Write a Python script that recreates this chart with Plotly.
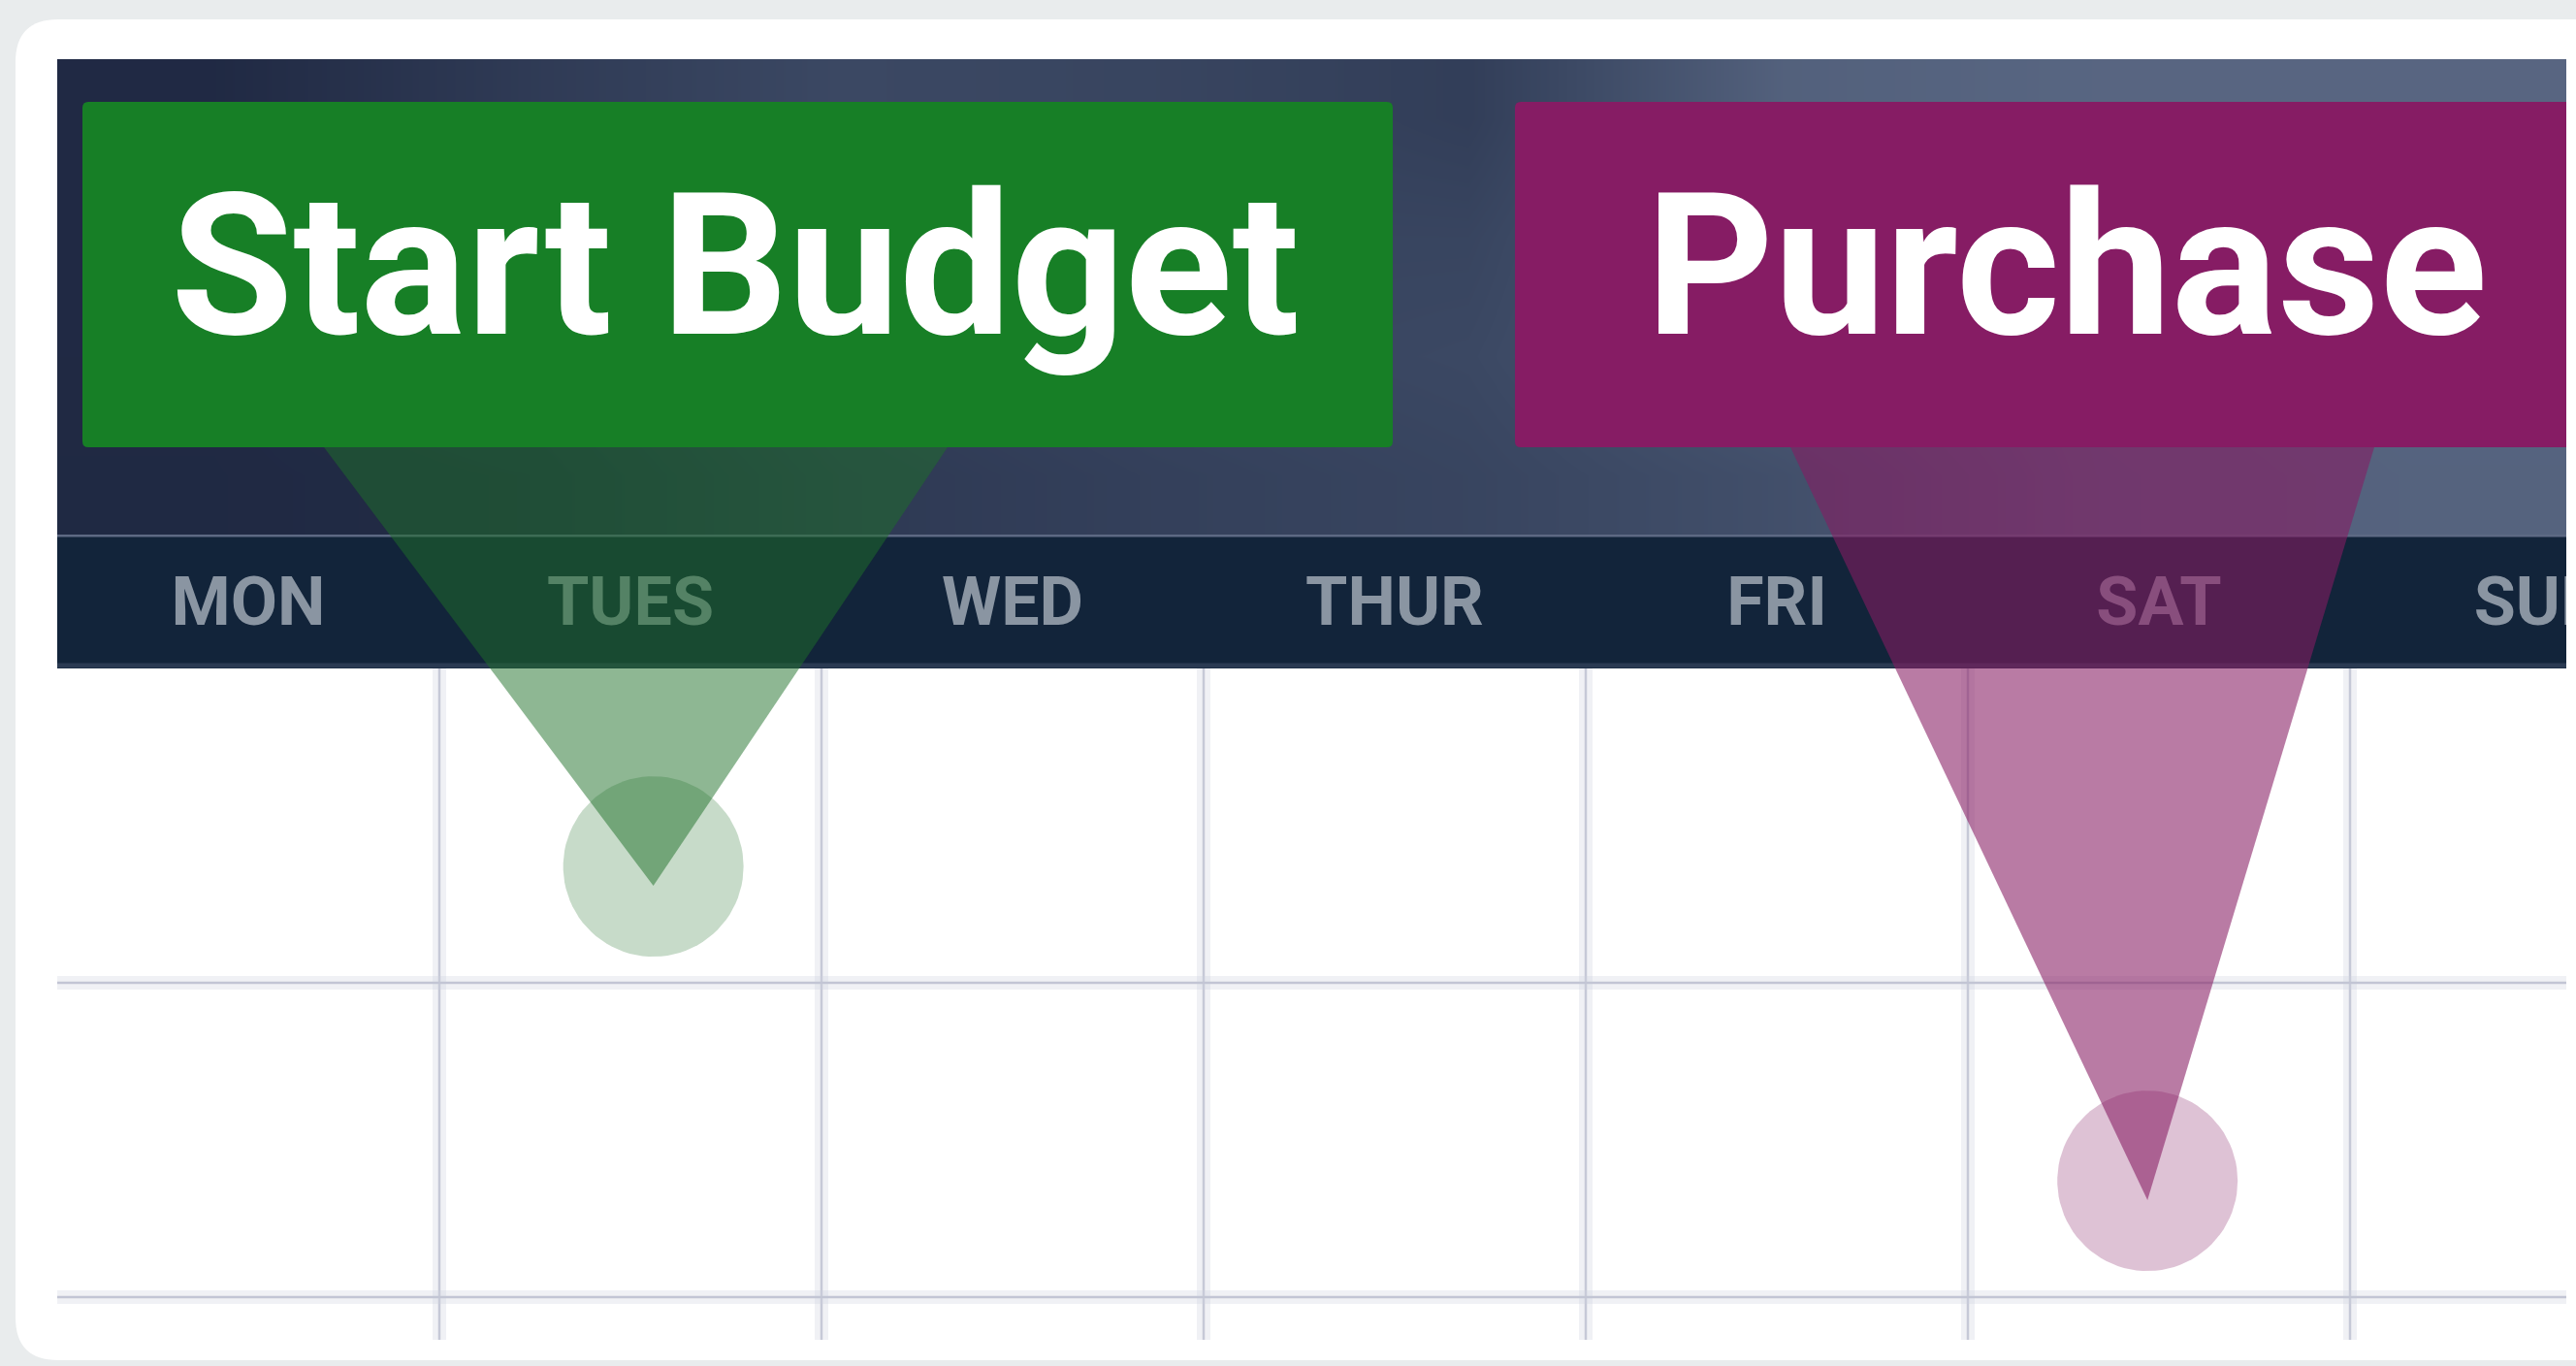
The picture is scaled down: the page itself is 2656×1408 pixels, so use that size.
import numpy as np
import plotly.graph_objects as go

# ---------------- data ----------------
days = ["MON", "TUES", "WED", "THUR", "FRI", "SAT", "SUN"]
week_rows = [0, 1, 2]
event_labels = ["Start Budget", "Purchase"]
event_days = ["TUES", "SAT"]
event_weeks = [0, 1]

# ---------------- layout / style constants (pixels) ----------------
W, H = 2656, 1408
GRID_X0, COL_W = 59, 394
GRID_Y0, ROW_H = 689, 324
HEAD_X1 = 2646
HEAD_Y0, BAND_Y0, BAND_Y1, GRID_Y1 = 61, 551, 689, 1381
BOX_Y0, BOX_Y1 = 105, 461
LABEL_Y = 626
TITLE_Y = 274
event_box_x = [(85, 1436), (1562, 2700)]
event_title_x = [758, 2130]
event_fill = ["#177f26", "#861c64"]
event_rgb = ["30,112,40", "134,28,99"]
tri_alpha = [0.5, 0.58]
circ_alpha = [0.25, 0.27]
tri_top = [(334, 977), (1846, 2448)]
marker_dx = [0.56, 0.47]
MARKER_DY = 0.63
APEX_DY_PX = 20
CIRCLE_R_PX = 93

FONT = "Roboto, Liberation Sans, sans-serif"

# header glow (0 = dark navy, 1 = light slate)
glow = [
    [0.05, 0.30, 0.50, 0.45, 0.35, 0.85, 0.92, 0.92],
    [0.05, 0.22, 0.45, 0.45, 0.45, 0.80, 0.90, 0.90],
    [0.05, 0.15, 0.35, 0.45, 0.50, 0.75, 0.86, 0.90],
    [0.04, 0.08, 0.28, 0.38, 0.45, 0.60, 0.84, 0.88],
]


def X(px):
    return (px - GRID_X0) / COL_W


def Y(py):
    return (py - GRID_Y0) / ROW_H


def rrect(x0, y0, x1, y1, r):
    return (f"M {X(x0 + r)},{Y(y0)} L {X(x1 - r)},{Y(y0)} Q {X(x1)},{Y(y0)} {X(x1)},{Y(y0 + r)} "
            f"L {X(x1)},{Y(y1 - r)} Q {X(x1)},{Y(y1)} {X(x1 - r)},{Y(y1)} "
            f"L {X(x0 + r)},{Y(y1)} Q {X(x0)},{Y(y1)} {X(x0)},{Y(y1 - r)} "
            f"L {X(x0)},{Y(y0 + r)} Q {X(x0)},{Y(y0)} {X(x0 + r)},{Y(y0)} Z")


fig = go.Figure()
shapes = []

# card
shapes.append(dict(type="path", path=rrect(16, 20, 2700, 1402, 44), fillcolor="white",
                   line=dict(width=0), layer="below"))
# day band
shapes.append(dict(type="rect", x0=X(GRID_X0), x1=X(HEAD_X1), y0=Y(BAND_Y0), y1=Y(BAND_Y1),
                   fillcolor="#12243a", line=dict(width=0), layer="below"))
shapes.append(dict(type="line", x0=X(GRID_X0), x1=X(HEAD_X1), y0=Y(BAND_Y0 + 1), y1=Y(BAND_Y0 + 1),
                   line=dict(color="#5d6983", width=3), layer="below"))
shapes.append(dict(type="line", x0=X(GRID_X0), x1=X(HEAD_X1), y0=Y(BAND_Y1 - 3), y1=Y(BAND_Y1 - 3),
                   line=dict(color="#2a3a52", width=5), layer="below"))

# grid lines
ncols = len(days)
for k in range(1, ncols):
    shapes.append(dict(type="line", x0=k, x1=k, y0=0, y1=Y(GRID_Y1),
                       line=dict(color="rgba(205,208,222,0.3)", width=14), layer="below"))
    shapes.append(dict(type="line", x0=k, x1=k, y0=0, y1=Y(GRID_Y1),
                       line=dict(color="#c6c9d7", width=2.5), layer="below"))
for r in week_rows[1:]:
    shapes.append(dict(type="line", x0=0, x1=X(HEAD_X1), y0=r, y1=r,
                       line=dict(color="rgba(205,208,222,0.3)", width=14), layer="below"))
    shapes.append(dict(type="line", x0=0, x1=X(HEAD_X1), y0=r, y1=r,
                       line=dict(color="#c2c5d4", width=2.5), layer="below"))

# header gradient (heatmap)
nx, ny = len(glow[0]), len(glow)
dxp = (HEAD_X1 - GRID_X0) / nx
dyp = (BAND_Y0 - HEAD_Y0) / ny
hx = [X(GRID_X0 + dxp * (i + 0.5)) for i in range(nx)]
hy = [Y(HEAD_Y0 + dyp * (j + 0.5)) for j in range(ny)]
fig.add_trace(go.Heatmap(
    x=hx, y=hy, z=glow, zmin=0, zmax=1, zsmooth="best", showscale=False, hoverinfo="skip",
    colorscale=[[0, "#1d2640"], [0.5, "#3b4863"], [1, "#5d6b87"]]))

# day labels
fig.add_trace(go.Scatter(
    x=[k + 0.5 for k in range(ncols)], y=[Y(LABEL_Y)] * ncols, text=days, mode="text",
    textposition="middle center", hoverinfo="skip",
    textfont=dict(family=FONT, size=70, color="#8a95a2", weight="bold")))

# event markers
th = np.linspace(0, 2 * np.pi, 90)
for i, (lab, d, w) in enumerate(zip(event_labels, event_days, event_weeks)):
    k = days.index(d)
    cxd = k + marker_dx[i]
    cyd = w + MARKER_DY
    fig.add_trace(go.Scatter(
        x=cxd + CIRCLE_R_PX * np.cos(th) / COL_W, y=cyd + CIRCLE_R_PX * np.sin(th) / ROW_H,
        mode="lines", fill="toself", fillcolor=f"rgba({event_rgb[i]},{circ_alpha[i]})",
        line=dict(width=0), hoverinfo="skip"))
    ay = cyd + APEX_DY_PX / ROW_H
    l, r = tri_top[i]
    fig.add_trace(go.Scatter(
        x=[X(l), X(r), cxd, X(l)], y=[Y(BOX_Y1), Y(BOX_Y1), ay, Y(BOX_Y1)],
        mode="lines", fill="toself", fillcolor=f"rgba({event_rgb[i]},{tri_alpha[i]})",
        line=dict(width=0), hoverinfo="skip"))
    bx0, bx1 = event_box_x[i]
    shapes.append(dict(type="path", path=rrect(bx0, BOX_Y0, bx1, BOX_Y1, 6),
                       fillcolor=event_fill[i], line=dict(width=0), layer="above"))

# clip at header right edge
shapes.append(dict(type="rect", x0=X(HEAD_X1), x1=X(W + 20), y0=Y(HEAD_Y0 - 10), y1=Y(GRID_Y1 + 5),
                   fillcolor="white", line=dict(width=0), layer="above"))

annotations = []
for i, lab in enumerate(event_labels):
    annotations.append(dict(x=X(event_title_x[i]), y=Y(TITLE_Y), text=lab, showarrow=False,
                            xanchor="center", yanchor="middle",
                            font=dict(family=FONT, size=205, color="white", weight="bold")))

fig.update_layout(
    width=W, height=H, margin=dict(l=0, r=0, t=0, b=0),
    paper_bgcolor="#e9eced", plot_bgcolor="rgba(0,0,0,0)", showlegend=False,
    xaxis=dict(visible=False, range=[X(0), X(W)], fixedrange=True),
    yaxis=dict(visible=False, range=[Y(H), Y(0)], fixedrange=True),
    shapes=shapes, annotations=annotations,
)

fig.write_html("out.html", config={"displayModeBar": False},
               post_script="document.body.style.margin='0';document.body.style.overflow='hidden';")
